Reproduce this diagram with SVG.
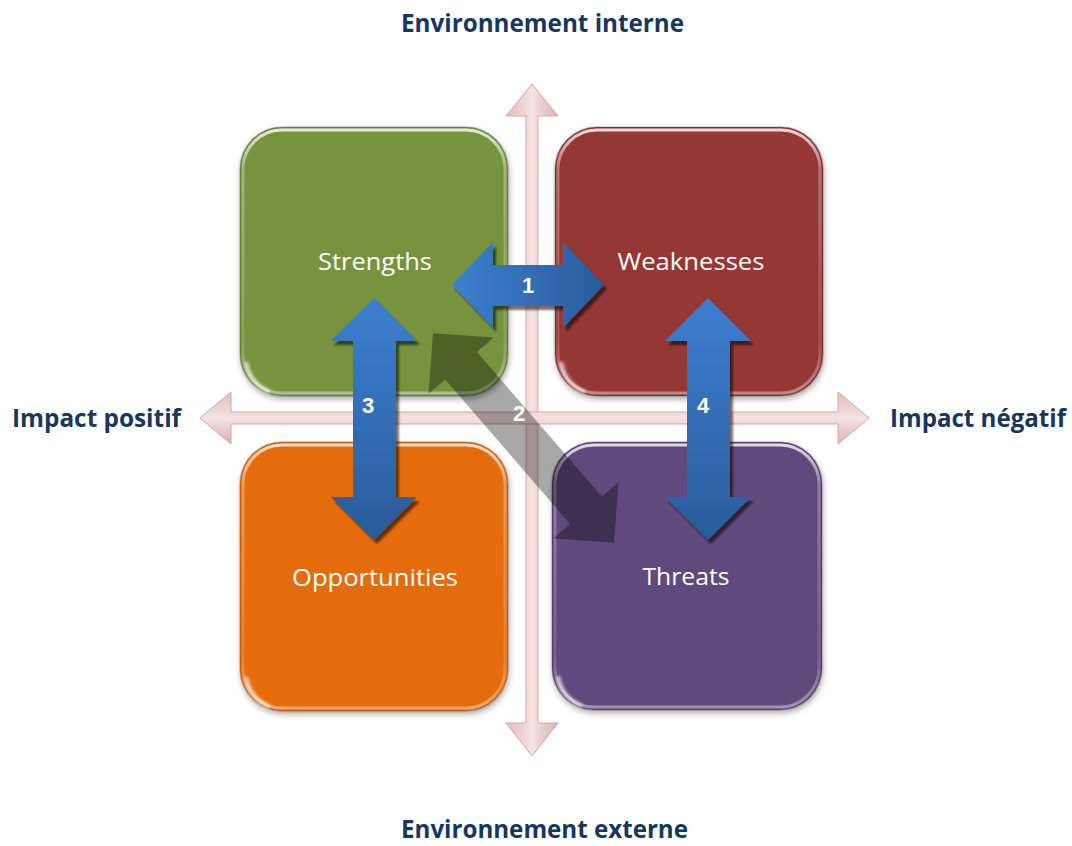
<svg xmlns="http://www.w3.org/2000/svg" width="1072" height="846" viewBox="0 0 1072 846">
<defs>
<style>
.title{font-family:"Open Sans","Liberation Sans",sans-serif;font-weight:bold;font-size:25px;fill:#17375e}
.lbl{font-family:"Open Sans","Liberation Sans",sans-serif;font-size:24px;fill:#ffffff;text-anchor:middle}
.num{font-family:"Liberation Sans",Arial,sans-serif;font-weight:bold;font-size:22px;fill:#ffffff;text-anchor:middle}
.axis{fill:url(#axisV);stroke:#d3a8a9;stroke-width:1}
.axisH{fill:url(#axisH);stroke:#d3a8a9;stroke-width:1}
.gloss{fill:none;stroke:url(#gloss);stroke-width:3}
.edge{fill:none;stroke:#000;stroke-opacity:0.18;stroke-width:1.5}
</style>
<linearGradient id="axisV" x1="0" y1="0" x2="1" y2="0">
<stop offset="0" stop-color="#e2bcbd"/><stop offset="0.5" stop-color="#f4e2e2"/><stop offset="1" stop-color="#dcb2b3"/>
</linearGradient>
<linearGradient id="axisH" x1="0" y1="0" x2="0" y2="1">
<stop offset="0" stop-color="#e2bcbd"/><stop offset="0.5" stop-color="#f4e2e2"/><stop offset="1" stop-color="#dcb2b3"/>
</linearGradient>
<linearGradient id="gloss" x1="0" y1="0" x2="0" y2="1">
<stop offset="0" stop-color="#fff" stop-opacity="0.8"/><stop offset="0.15" stop-color="#fff" stop-opacity="0.3"/><stop offset="0.8" stop-color="#fff" stop-opacity="0.12"/><stop offset="1" stop-color="#fff" stop-opacity="0.4"/>
</linearGradient>
<linearGradient id="blueH" x1="0" y1="0" x2="1" y2="0">
<stop offset="0" stop-color="#3d7fd1"/><stop offset="1" stop-color="#2a5c9a"/>
</linearGradient>
<linearGradient id="blueV" x1="0" y1="0" x2="0" y2="1">
<stop offset="0" stop-color="#3d7fd1"/><stop offset="1" stop-color="#2a5c9a"/>
</linearGradient>
<filter id="boxShadow" x="-10%" y="-10%" width="120%" height="125%">
<feGaussianBlur in="SourceAlpha" stdDeviation="3"/>
<feOffset dx="1" dy="3" result="b"/>
<feComponentTransfer><feFuncA type="linear" slope="0.35"/></feComponentTransfer>
<feMerge><feMergeNode/><feMergeNode in="SourceGraphic"/></feMerge>
</filter>
<filter id="arrShadow" x="-20%" y="-20%" width="140%" height="140%">
<feGaussianBlur in="SourceAlpha" stdDeviation="1.2"/>
<feOffset dx="3" dy="4" result="b"/>
<feComponentTransfer><feFuncA type="linear" slope="0.55"/></feComponentTransfer>
<feMerge><feMergeNode/><feMergeNode in="SourceGraphic"/></feMerge>
</filter>
<filter id="soft" x="-20%" y="-20%" width="140%" height="140%">
<feGaussianBlur stdDeviation="1.5"/>
</filter>
</defs>
<rect width="1072" height="846" fill="#ffffff"/>

<g id="axes">
<polygon class="axis" points="532,84 558,116 538,116 538,723 558,723 532,756 506,723 526,723 526,116 506,116"/>
<polygon class="axisH" points="200,418 231,392 231,412 838,412 838,392 869,418 838,444 838,424 231,424 231,444"/>
</g>

<g id="strengths">
<rect x="240" y="127" width="268" height="269" rx="42" fill="#77933c" filter="url(#boxShadow)"/>
<rect x="240" y="127" width="268" height="269" rx="42" class="edge"/>
<rect x="243" y="130" width="262" height="263" rx="39" class="gloss"/>
<path d="M246,362 Q250,384 270,392" fill="none" stroke="#fff" stroke-width="4" stroke-opacity="0.7" filter="url(#soft)"/>
<text class="lbl" x="375" y="270" textLength="114" lengthAdjust="spacingAndGlyphs">Strengths</text>
</g>

<g id="weaknesses">
<rect x="555" y="127" width="268" height="269" rx="42" fill="#953735" filter="url(#boxShadow)"/>
<rect x="555" y="127" width="268" height="269" rx="42" class="edge"/>
<rect x="558" y="130" width="262" height="263" rx="39" class="gloss"/>
<path d="M561,362 Q565,384 585,392" fill="none" stroke="#fff" stroke-width="4" stroke-opacity="0.7" filter="url(#soft)"/>
<text class="lbl" x="691" y="270" textLength="147" lengthAdjust="spacingAndGlyphs">Weaknesses</text>
</g>

<g id="opportunities">
<rect x="240" y="442" width="268" height="269" rx="42" fill="#e46c0a" filter="url(#boxShadow)"/>
<rect x="240" y="442" width="268" height="269" rx="42" class="edge"/>
<rect x="243" y="445" width="262" height="263" rx="39" class="gloss"/>
<path d="M246,677 Q250,699 270,707" fill="none" stroke="#fff" stroke-width="4" stroke-opacity="0.7" filter="url(#soft)"/>
<text class="lbl" x="375" y="586" textLength="166" lengthAdjust="spacingAndGlyphs">Opportunities</text>
</g>

<g id="threats">
<rect x="552" y="442" width="270" height="268" rx="42" fill="#604a7b" filter="url(#boxShadow)"/>
<rect x="552" y="442" width="270" height="268" rx="42" class="edge"/>
<rect x="555" y="445" width="264" height="262" rx="39" class="gloss"/>
<path d="M558,676 Q562,698 582,706" fill="none" stroke="#fff" stroke-width="4" stroke-opacity="0.7" filter="url(#soft)"/>
<text class="lbl" x="686" y="585" textLength="87" lengthAdjust="spacingAndGlyphs">Threats</text>
</g>

<g id="connectors">
<g id="arrow2" transform="translate(523.5,438) rotate(49.2)">
<polygon points="-138.5,0 -95.5,-43 -95.5,-21 95.5,-21 95.5,-43 138.5,0 95.5,43 95.5,21 -95.5,21 -95.5,43" fill="#000" fill-opacity="0.34"/>
</g>
<polygon id="arrow1" points="452,285 493,242 493,265 563,265 563,242 604,285 563,328 563,306 493,306 493,328" fill="url(#blueH)" filter="url(#arrShadow)"/>
<polygon id="arrow3" points="374,298 417,341 396,341 396,497 417,497 374,540 331,497 353,497 353,341 331,341" fill="url(#blueV)" filter="url(#arrShadow)"/>
<polygon id="arrow4" points="708,298 751,341 730,341 730,497 751,497 708,540 665,497 687,497 687,341 665,341" fill="url(#blueV)" filter="url(#arrShadow)"/>
<text class="num" x="528" y="293">1</text>
<text class="num" x="519" y="421">2</text>
<text class="num" x="368" y="413">3</text>
<text class="num" x="703" y="413">4</text>
</g>

<g id="titles">
<text class="title" x="401" y="32" textLength="283" lengthAdjust="spacingAndGlyphs">Environnement interne</text>
<text class="title" x="401" y="838" textLength="287" lengthAdjust="spacingAndGlyphs">Environnement externe</text>
<text class="title" x="12" y="427" textLength="169" lengthAdjust="spacingAndGlyphs">Impact positif</text>
<text class="title" x="890" y="427" textLength="176" lengthAdjust="spacingAndGlyphs">Impact négatif</text>
</g>
</svg>
